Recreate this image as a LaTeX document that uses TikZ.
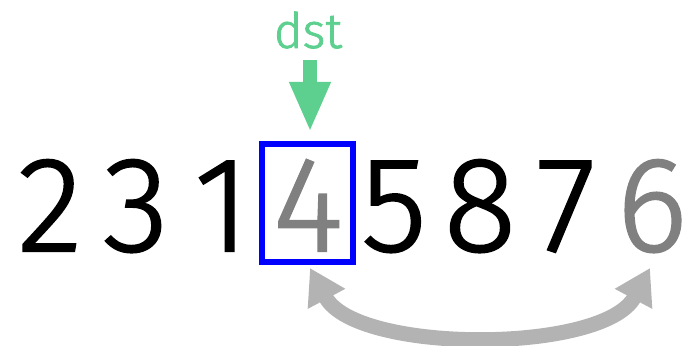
\documentclass[tikz,border=0pt]{standalone}
\usepackage{fontspec}
\setmainfont{Fira Sans Light}[RawFeature={embolden=1.6}]
\usetikzlibrary{arrows.meta}
\definecolor{dstgreen}{HTML}{5DD08F}
\definecolor{swapgray}{HTML}{B3B3B3}
\definecolor{dimgray}{HTML}{808080}
\begin{document}
\begin{tikzpicture}[x=1pt,y=1pt,
  digit/.style={inner sep=0pt, anchor=base, font=\fontsize{135}{135}\selectfont},
  graydigit/.style={digit, text=dimgray},
  dstbox/.style={draw=blue, line width=6.5pt, minimum width=91pt, minimum height=118pt, inner sep=0pt},
  dstlabel/.style={inner sep=0pt, anchor=base, text=dstgreen, font=\fontsize{49}{49}\selectfont},
  pointer/.style={draw=dstgreen, line width=14pt, -{Triangle[length=50pt, width=38pt]}},
  swap/.style={draw=swapgray, line width=15pt, {Triangle[length=35pt, width=40pt]}-{Triangle[length=35pt, width=40pt]}}
]
\useasboundingbox (0,0) rectangle (692,345);
\node[digit] (d1) at (50,94) {2};
\node[digit] (d2) at (136,94) {3};
\node[digit] (d3) at (222,94) {1};
\node[graydigit] (d4) at (308,94) {4};
\node[digit] (d5) at (394,94) {5};
\node[digit] (d6) at (480,94) {8};
\node[digit] (d7) at (566,94) {7};
\node[graydigit] (d8) at (652,94) {6};
\node[dstbox] (box) at (307.5,142) {};
\node[dstlabel] (dst) at (308,297) {dst};
\coordinate (ptop) at (310,285);
\coordinate (ptip) at (310,213);
\draw[pointer] (ptop) -- (ptip);
\coordinate (lt) at (310,77);
\coordinate (rt) at (650,77);
\draw[swap] (lt) .. controls (356,-9) and (604,-9) .. (rt);
\end{tikzpicture}
\end{document}
